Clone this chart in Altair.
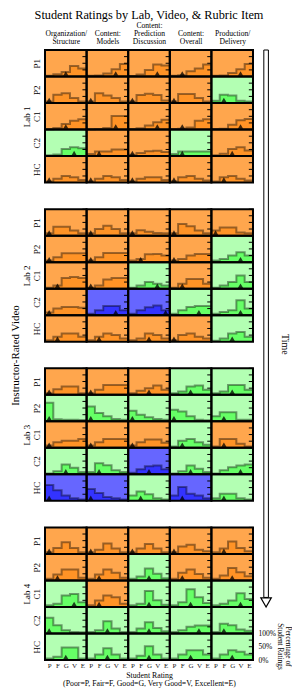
import altair as alt
import pandas as pd

chart_title = "Student Ratings by Lab, Video, & Rubric Item"
labs = ["Lab 1", "Lab 2", "Lab 3", "Lab 4"]
videos = ["P1", "P2", "C1", "C2", "HC"]
items = [["Organization/", "Structure"], ["Content:", "Models"],
         ["Content:", "Prediction", "Discussion"], ["Content:", "Overall"],
         ["Production/", "Delivery"]]
ratings = ["P", "F", "G", "V", "E"]

# background category per cell (rows P1..HC, columns = rubric items)
cat_lab1 = ["OOOOO", "OOOOG", "OOOOO", "GOOGO", "OOOOO"]
cat_lab2 = ["OOOOO", "OOOOG", "OOGOG", "OBBGG", "OOOOG"]
cat_lab3 = ["OOOGG", "GGGGG", "OOOGO", "GGBGG", "BBGBG"]
cat_lab4 = ["OOOOO", "OOGOO", "GOGGG", "GGGGG", "GGGGG"]

# instructor rating per cell
ins_lab1 = ["GVVFV", "PPPPF", "GVVFV", "VFPFG", "PPPPF"]
ins_lab2 = ["PPPPP", "PPFPV", "FPVFV", "PVEVV", "FFGPG"]
ins_lab3 = ["PPGGG", "PPPPF", "PPPFF", "GFGGV", "PPFFF"]
ins_lab4 = ["PPPPF", "FFGFG", "VFGGV", "PGGVF", "GGGGG"]

# percentage of student ratings [P, F, G, V, E] per cell
pct_lab1 = [
    [[3, 9, 17, 40, 30], [3, 4, 11, 27, 47], [2, 8, 25, 45, 42], [3, 5, 20, 30, 45], [3, 4, 13, 27, 47]],
    [[6, 31, 37, 19, 6], [6, 37, 28, 19, 6], [6, 30, 35, 30, 10], [6, 34, 34, 19, 6], [9, 31, 28, 9, 6]],
    [[1, 6, 21, 33, 39], [1, 2, 6, 51, 51], [2, 5, 15, 28, 37], [2, 3, 8, 33, 39], [2, 3, 18, 35, 40]],
    [[3, 6, 27, 33, 30], [8, 17, 17, 25, 25], [5, 12, 18, 20, 15], [8, 17, 17, 17, 17], [3, 9, 27, 33, 21]],
    [[4, 15, 25, 20, 10], [4, 15, 25, 20, 10], [4, 15, 20, 20, 10], [5, 20, 25, 15, 8], [4, 20, 25, 15, 8]],
]
pct_lab2 = [
    [[9, 34, 34, 19, 9], [9, 25, 37, 25, 9], [9, 20, 15, 10, 9], [9, 44, 35, 19, 9], [19, 31, 31, 12, 9]],
    [[6, 19, 34, 34, 34], [6, 19, 35, 35, 35], [6, 12, 30, 31, 25], [6, 12, 25, 31, 31], [6, 12, 25, 37, 25]],
    [[4, 12, 40, 44, 40], [4, 12, 35, 40, 40], [4, 12, 25, 19, 12], [4, 19, 37, 37, 19], [4, 12, 25, 50, 25]],
    [[10, 25, 31, 31, 28], [6, 19, 35, 35, 19], [6, 19, 30, 37, 19], [6, 19, 31, 35, 35], [6, 12, 19, 56, 25]],
    [[6, 19, 31, 31, 19], [6, 19, 31, 25, 12], [6, 12, 31, 25, 12], [6, 25, 31, 19, 12], [4, 12, 31, 37, 19]],
]
pct_lab3 = [
    [[6, 21, 31, 31, 6], [6, 19, 37, 37, 37], [6, 15, 25, 35, 19], [6, 12, 31, 35, 19], [6, 12, 37, 37, 19]],
    [[70, 8, 6, 6, 5], [56, 31, 19, 9, 6], [40, 25, 15, 9, 6], [44, 37, 19, 6, 4], [19, 34, 34, 6, 6]],
    [[9, 21, 27, 27, 33], [9, 21, 33, 33, 33], [9, 21, 31, 31, 19], [5, 27, 33, 21, 12], [5, 33, 33, 15, 5]],
    [[3, 12, 37, 25, 9], [9, 42, 34, 15, 9], [6, 19, 31, 33, 19], [3, 12, 33, 21, 9], [3, 15, 27, 33, 37]],
    [[60, 40, 20, 10, 5], [45, 30, 15, 10, 5], [20, 35, 25, 10, 5], [20, 52, 27, 20, 10], [10, 27, 27, 10, 5]],
]
pct_lab4 = [
    [[6, 22, 44, 22, 6], [6, 16, 39, 20, 6], [6, 20, 37, 20, 6], [6, 28, 35, 16, 10], [6, 20, 47, 22, 10]],
    [[6, 22, 41, 41, 10], [6, 22, 41, 29, 10], [6, 15, 45, 25, 8], [6, 29, 41, 24, 10], [6, 19, 47, 31, 16]],
    [[6, 12, 43, 49, 18], [6, 24, 43, 37, 12], [6, 12, 60, 25, 8], [6, 18, 67, 37, 15], [6, 12, 24, 52, 30]],
    [[59, 31, 12, 6, 5], [6, 12, 46, 19, 6], [6, 19, 42, 21, 8], [6, 12, 25, 30, 30], [6, 37, 31, 15, 10]],
    [[6, 12, 47, 47, 6], [6, 21, 44, 21, 6], [6, 16, 52, 21, 6], [6, 21, 37, 37, 21], [6, 21, 37, 31, 21]],
]

cats = [cat_lab1, cat_lab2, cat_lab3, cat_lab4]
instr = [ins_lab1, ins_lab2, ins_lab3, ins_lab4]
pcts = [pct_lab1, pct_lab2, pct_lab3, pct_lab4]

# ---- styles ----
bg_color = {"O": "#FFA64D", "G": "#B3FFB3", "B": "#6666FF"}
fill_color = {"O": "#FF9326", "G": "#66FF66", "B": "#3333FF"}
FONT = "Liberation Serif"
LH = 8     # header line height
RLH = 10   # row label line height
PLOT_W, PLOT_H = 208, 610

n_cols = len(items)
n_bins = len(ratings)
rows_per_lab = len(videos) + 1          # one blank row between labs
n_rows = len(labs) * rows_per_lab - 1

cells, hist, tri, ticks = [], [], [], []
row_label = {}
for li, lab in enumerate(labs):
    for vi, vid in enumerate(videos):
        yb = n_rows - 1 - (li * rows_per_lab + vi)
        row_label[2 * yb + 1] = [lab if vi == 2 else "", vid]
        for ci in range(n_cols):
            cid = f"{li}-{vi}-{ci}"
            cat = cats[li][vi][ci]
            x0 = ci * n_bins
            cells.append(dict(cell=cid, x0=x0, x1=x0 + n_bins, y0=yb, y1=yb + 1,
                              bg=bg_color[cat]))
            vals = pcts[li][vi][ci]
            for b in range(n_bins + 1):
                v = vals[min(b, n_bins - 1)]
                hist.append(dict(cell=cid, x=x0 + b, y=yb + v / 100, yb=yb,
                                 fc=fill_color[cat]))
            k = ratings.index(instr[li][vi][ci])
            tri.append(dict(cell=cid, x=x0 + k + 0.5, y=yb))
            for t in (0.25, 0.5, 0.75, 1.0):
                ticks.append(dict(x=x0 + n_bins - 0.5, x2=x0 + n_bins, y=yb + t))

cells = pd.DataFrame(cells)
hist = pd.DataFrame(hist)
tri = pd.DataFrame(tri)
ticks = pd.DataFrame(ticks)

xs = alt.Scale(domain=[0, n_cols * n_bins], nice=False, zero=False)
ys = alt.Scale(domain=[0, n_rows], nice=False, zero=False)


def js(v):
    return "[" + ",".join("'" + s + "'" for s in v) + "]"


left_expr = "''"
for key, lab in row_label.items():
    left_expr = f"round(datum.value*2)=={key} ? {js(lab)} : ({left_expr})"
top_expr = "''"
max_lines = max(len(it) for it in items)
for ci, it in enumerate(items):
    padded = [""] * (max_lines - len(it)) + it
    top_expr = f"round(datum.value*2)=={2 * ci * n_bins + n_bins} ? {js(padded)} : ({top_expr})"
bot_expr = "[" + ",".join("'" + r + "'" for r in ratings) + f"][floor(datum.value) % {n_bins}]"

bottom_axis = alt.Axis(orient="bottom", values=[c * n_bins + b + 0.5 for c in range(n_cols) for b in range(n_bins)],
                       labelExpr=bot_expr, ticks=False, domain=False, grid=False,
                       labelFontSize=7, labelColor="#222222", labelPadding=1, labelAngle=0,
                       labelOverlap=False, labelFlush=False, labelBound=False,
                       title=["Student Rating", "(Poor=P, Fair=F, Good=G, Very Good=V, Excellent=E)"],
                       titleFontSize=7.8, titleFontWeight="normal", titlePadding=3, titleLineHeight=8.3,
                       titleColor="black")
top_axis = alt.Axis(orient="top", values=[c * n_bins + n_bins / 2 for c in range(n_cols)],
                    labelExpr=top_expr, ticks=False, domain=False, grid=False,
                    labelFontSize=7.6, labelLineHeight=LH, labelPadding=5 + LH * (max_lines - 1),
                    labelColor="black", labelAngle=0, labelOverlap=False, labelFlush=False,
                    labelBound=False, title=None)
left_axis = alt.Axis(orient="left", values=[k / 2 for k in row_label.keys()],
                     labelExpr=left_expr, ticks=False, domain=False, grid=False,
                     labelFontSize=9, labelLineHeight=RLH, labelPadding=4 + RLH, labelAngle=270,
                     labelColor="black", labelOverlap=False, labelFlush=False, labelBound=False,
                     title="Instructor-Rated Video", titleFontSize=11, titleFontWeight="normal",
                     titlePadding=2, titleColor="black")
right_axis = alt.Axis(orient="right", values=[0, 0.5, 1],
                      labelExpr="datum.value >= 1 ? '100%' : (datum.value > 0 ? '50%' : '0%')",
                      ticks=False, domain=False, grid=False, labelFontSize=7.5, labelPadding=5,
                      labelColor="black", labelOverlap=False, labelFlush=False, labelBound=False,
                      title=["Percentage of", "Student Ratings"], titleAngle=90, titleFontSize=7.3,
                      titleLineHeight=8, titleFontWeight="normal", titlePadding=0, titleY=596,
                      titleAlign="center", titleColor="black")

bg = alt.Chart(cells).mark_rect(strokeWidth=0).encode(
    x=alt.X("x0:Q", scale=xs, axis=bottom_axis), x2="x1:Q",
    y=alt.Y("y0:Q", scale=ys, axis=left_axis), y2="y1:Q",
    fill=alt.Fill("bg:N", scale=None),
)
area = alt.Chart(hist).mark_area(interpolate="step-after").encode(
    x=alt.X("x:Q", scale=xs, axis=None),
    y=alt.Y("y:Q", scale=ys, axis=None), y2="yb:Q",
    fill=alt.Fill("fc:N", scale=None), detail="cell:N",
)
line = alt.Chart(hist).mark_line(interpolate="step-after", color="black", opacity=0.4,
                                 strokeWidth=2).encode(
    x=alt.X("x:Q", scale=xs, axis=None),
    y=alt.Y("y:Q", scale=ys, axis=None), detail="cell:N",
)
tick_layer = alt.Chart(ticks).mark_rule(color="black", strokeWidth=1).encode(
    x=alt.X("x:Q", scale=xs, axis=top_axis), x2="x2:Q",
    y=alt.Y("y:Q", scale=ys, axis=right_axis),
)
tri_layer = alt.Chart(tri).mark_point(shape="triangle-up", filled=True, color="black",
                                      opacity=0.75, size=28).encode(
    x=alt.X("x:Q", scale=xs, axis=None),
    y=alt.Y("y:Q", scale=ys, axis=None),
    yOffset=alt.value(-3),
)
border = alt.Chart(cells).mark_rect(filled=False, stroke="black", strokeWidth=2).encode(
    x=alt.X("x0:Q", scale=xs, axis=None), x2="x1:Q",
    y=alt.Y("y0:Q", scale=ys, axis=None), y2="y1:Q",
)

# time arrow annotation (outside the grid, in the same coordinates)
arrow = pd.DataFrame([dict(xa=26.3, xb=26.85, xm=26.57, ytop=23, ybot=2.36, yhead=2.17,
                           xt=28.9, yt=11.9, label="Time")])
shaft = alt.Chart(arrow).mark_rect(fill="white", stroke="black", strokeWidth=1).encode(
    x=alt.X("xa:Q", scale=xs, axis=None), x2="xb:Q",
    y=alt.Y("ybot:Q", scale=ys, axis=None), y2="ytop:Q",
)
head = alt.Chart(arrow).mark_point(shape="triangle-down", filled=True, fill="white",
                                   stroke="black", strokeWidth=1.2, size=110, opacity=1).encode(
    x=alt.X("xm:Q", scale=xs, axis=None),
    y=alt.Y("yhead:Q", scale=ys, axis=None),
)
time_txt = alt.Chart(arrow).mark_text(angle=90, fontSize=10, font=FONT).encode(
    x=alt.X("xt:Q", scale=xs, axis=None),
    y=alt.Y("yt:Q", scale=ys, axis=None),
    text="label:N",
)

chart = alt.layer(bg, area, line, tick_layer, tri_layer, border, shaft, head, time_txt).resolve_axis(
    x="independent", y="independent"
).properties(
    width=PLOT_W, height=PLOT_H,
    title=alt.TitleParams(chart_title, fontSize=12.3, font=FONT, fontWeight="normal", offset=0,
                          color="black"),
    autosize=alt.AutoSizeParams(type="none"),
    padding={"left": 37, "top": 42, "right": 39, "bottom": 28},
).configure_view(stroke=None).configure_axis(
    labelFont=FONT, titleFont=FONT, labelColor="black", titleColor="black"
)

chart.save("out.html", embed_options={"renderer": "svg", "actions": False})
